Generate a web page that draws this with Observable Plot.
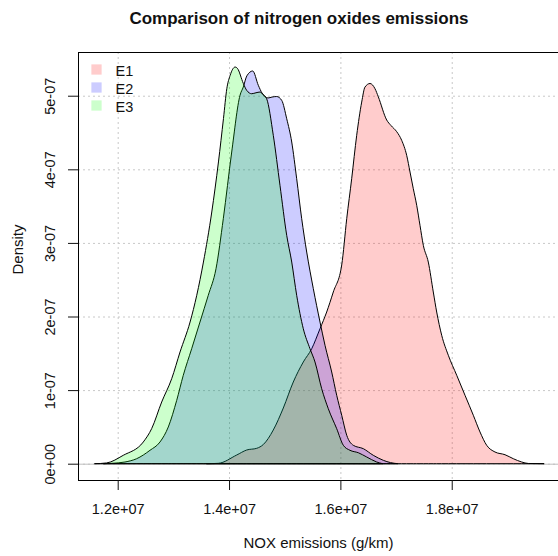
<!DOCTYPE html>
<html><head><meta charset="utf-8">
<script src="https://cdn.jsdelivr.net/npm/d3@7"></script>
<script src="https://cdn.jsdelivr.net/npm/@observablehq/plot@0.6"></script>
<style>
html,body{margin:0;padding:0;background:#fff;}
#chart{width:558px;height:556px;}
</style>
</head><body>
<div id="chart"></div>
<script>
const title = "Comparison of nitrogen oxides emissions";
const xLabel = "NOX emissions (g/km)";
const yLabel = "Density";
const series = ["E1", "E2", "E3"];
const seriesColors = ["#ff0000", "#0000ff", "#00ff00"];

const e1X = [13.60e6, 13.807e6, 14.138e6, 14.317e6, 14.497e6, 14.615e6, 14.795e6, 14.975e6, 15.154e6, 15.334e6, 15.485e6, 15.634e6, 15.754e6, 15.873e6, 16.024e6, 16.114e6, 16.203e6, 16.293e6, 16.383e6, 16.442e6, 16.532e6, 16.622e6, 16.681e6, 16.832e6, 16.909e6, 17.012e6, 17.101e6, 17.191e6, 17.251e6, 17.31e6, 17.371e6, 17.43e6, 17.49e6, 17.579e6, 17.669e6, 17.73e6, 17.82e6, 17.939e6, 18.09e6, 18.239e6, 18.388e6, 18.508e6, 18.628e6, 18.777e6, 18.957e6, 19.106e6, 19.257e6, 19.376e6, 19.66e6];
const e1Y = [0, 0.005e-7, 0.118e-7, 0.186e-7, 0.209e-7, 0.26e-7, 0.458e-7, 0.757e-7, 1.11e-7, 1.382e-7, 1.5625e-7, 1.834e-7, 2.061e-7, 2.333e-7, 2.70e-7, 3.329e-7, 3.872e-7, 4.462e-7, 4.914e-7, 5.118e-7, 5.166e-7, 5.095e-7, 4.986e-7, 4.67e-7, 4.595e-7, 4.511e-7, 4.394e-7, 4.19e-7, 3.963e-7, 3.736e-7, 3.511e-7, 3.239e-7, 2.967e-7, 2.74e-7, 2.333e-7, 2.061e-7, 1.745e-7, 1.473e-7, 1.201e-7, 0.929e-7, 0.658e-7, 0.431e-7, 0.25e-7, 0.159e-7, 0.122e-7, 0.068e-7, 0.023e-7, 0.003e-7, 0];

const e2X = [11.75e6, 11.892e6, 12.131e6, 12.341e6, 12.58e6, 12.76e6, 12.909e6, 13.06e6, 13.178e6, 13.329e6, 13.478e6, 13.627e6, 13.766e6, 13.897e6, 14.048e6, 14.197e6, 14.256e6, 14.32e6, 14.425e6, 14.526e6, 14.592e6, 14.70e6, 14.772e6, 14.856e6, 14.946e6, 15.036e6, 15.126e6, 15.215e6, 15.305e6, 15.395e6, 15.514e6, 15.634e6, 15.724e6, 15.844e6, 15.934e6, 16.024e6, 16.114e6, 16.232e6, 16.412e6, 16.591e6, 16.771e6, 16.90e6, 17.03e6];
const e2Y = [0, 0.005e-7, 0.023e-7, 0.068e-7, 0.182e-7, 0.295e-7, 0.499e-7, 0.861e-7, 1.201e-7, 1.5625e-7, 1.925e-7, 2.288e-7, 2.649e-7, 3.329e-7, 4.235e-7, 5.005e-7, 5.118e-7, 5.27e-7, 5.336e-7, 5.141e-7, 5.037e-7, 4.969e-7, 4.982e-7, 4.989e-7, 4.937e-7, 4.6875e-7, 4.371e-7, 3.872e-7, 3.329e-7, 2.876e-7, 2.378e-7, 1.925e-7, 1.609e-7, 1.246e-7, 0.929e-7, 0.658e-7, 0.386e-7, 0.25e-7, 0.204e-7, 0.114e-7, 0.046e-7, 0.015e-7, 0];

const e3X = [11.59e6, 11.80e6, 12.10e6, 12.46e6, 12.61e6, 12.79e6, 12.97e6, 13.12e6, 13.30e6, 13.42e6, 13.54e6, 13.69e6, 13.81e6, 13.90e6, 13.96e6, 14.02e6, 14.11e6, 14.15e6, 14.256e6, 14.317e6, 14.407e6, 14.484e6, 14.556e6, 14.615e6, 14.676e6, 14.795e6, 14.915e6, 15.036e6, 15.126e6, 15.215e6, 15.334e6, 15.454e6, 15.544e6, 15.664e6, 15.783e6, 15.934e6, 16.053e6, 16.173e6, 16.322e6, 16.473e6, 16.652e6, 16.76e6];
const e3Y = [0, 0.01e-7, 0.114e-7, 0.295e-7, 0.476e-7, 0.838e-7, 1.155e-7, 1.518e-7, 1.925e-7, 2.288e-7, 2.74e-7, 3.42e-7, 4.10e-7, 4.69e-7, 5.095e-7, 5.277e-7, 5.39e-7, 5.372e-7, 5.168e-7, 5.073e-7, 5.027e-7, 5.04e-7, 5.05e-7, 5.014e-7, 4.959e-7, 4.462e-7, 3.783e-7, 3.103e-7, 2.74e-7, 2.288e-7, 1.834e-7, 1.5625e-7, 1.382e-7, 1.019e-7, 0.747e-7, 0.4755e-7, 0.25e-7, 0.182e-7, 0.149e-7, 0.091e-7, 0.023e-7, 0];

const xTicks = [1.2e7, 1.4e7, 1.6e7, 1.8e7];
const xTickLabels = ["1.2e+07", "1.4e+07", "1.6e+07", "1.8e+07"];
const yTicks = [0, 1e-7, 2e-7, 3e-7, 4e-7, 5e-7];
const yTickLabels = ["0e+00", "1e-07", "2e-07", "3e-07", "4e-07", "5e-07"];

const xDomain = [11.287e6, 19.909e6];
const yDomain = [-0.2215e-7, 5.594e-7];

const mk = (xs, ys, s) => xs.map((x, i) => ({x, y: ys[i], s}));
const curves = [mk(e1X, e1Y, "E1"), mk(e2X, e2Y, "E2"), mk(e3X, e3Y, "E3")];

const font = "'Liberation Sans', Arial, Helvetica, sans-serif";
const ink = "#111";

const legendMarks = series.flatMap((s, i) => [
  Plot.dot([s], {frameAnchor: "top-left", dx: 18, dy: 17 + 18 * i, symbol: "square", r: 5.8, fill: seriesColors[i], fillOpacity: 0.2, stroke: null}),
  Plot.text([s], {text: d => d, frameAnchor: "top-left", dx: 37, dy: 19 + 18 * i, textAnchor: "start", lineAnchor: "middle", fontSize: 14.5, fill: ink})
]);

const plot = Plot.plot({
  width: 558,
  height: 556,
  marginLeft: 78,
  marginRight: 0,
  marginTop: 52,
  marginBottom: 76,
  style: {fontFamily: font, fontSize: "14.5px", color: ink, background: "#fff"},
  x: {type: "linear", domain: xDomain},
  y: {type: "linear", domain: yDomain},
  marks: [
    Plot.gridX(xTicks, {stroke: "#c8c8c8", strokeOpacity: 1, strokeDasharray: "2,3"}),
    Plot.gridY(yTicks, {stroke: "#c8c8c8", strokeOpacity: 1, strokeDasharray: "2,3"}),
    Plot.ruleY([0], {stroke: "#bebebe"}),
    ...curves.map((d, i) => Plot.areaY(d, {x: "x", y: "y", fill: seriesColors[i], fillOpacity: 0.2, stroke: "black", strokeWidth: 1, curve: "monotone-x"})),
    Plot.ruleY([yDomain[1]], {stroke: "black"}),
    Plot.ruleY([yDomain[0]], {stroke: "black"}),
    Plot.ruleX([xDomain[0]], {stroke: "black"}),
    Plot.axisX({ticks: xTicks, tickFormat: d => xTickLabels[xTicks.indexOf(d)], tickSize: 10, tickPadding: 13, fontSize: 14.5, label: null}),
    Plot.axisY({ticks: yTicks, tickFormat: () => "", tickSize: 10, label: null}),
    Plot.text(yTicks, {y: d => d, text: d => yTickLabels[yTicks.indexOf(d)], frameAnchor: "left", dx: -28, rotate: -90, textAnchor: "middle", lineAnchor: "middle", fontSize: 14.5, fill: ink}),
    Plot.text([yLabel], {text: d => d, frameAnchor: "left", dx: -60, dy: -17, rotate: -90, textAnchor: "middle", lineAnchor: "middle", fontSize: 15, fill: ink}),
    Plot.text([xLabel], {text: d => d, frameAnchor: "bottom", dy: 63, textAnchor: "middle", lineAnchor: "middle", fontSize: 15, fill: ink}),
    Plot.text([title], {text: d => d, frameAnchor: "top", dx: -19.5, dy: -33.5, textAnchor: "middle", lineAnchor: "middle", fontSize: 17, fontWeight: "bold", fill: ink}),
    ...legendMarks
  ]
});
document.getElementById("chart").appendChild(plot);
</script>
</body></html>
